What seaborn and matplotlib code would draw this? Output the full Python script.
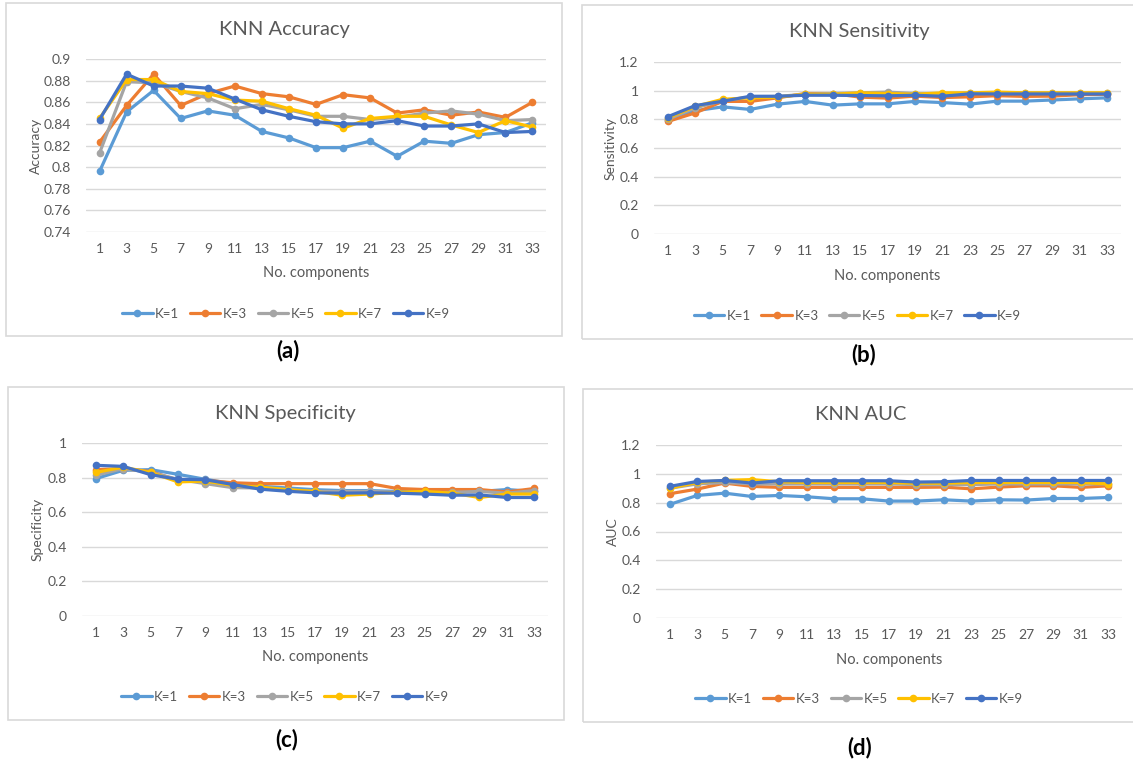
import numpy as np
import pandas as pd
import matplotlib
matplotlib.use("Agg")
import matplotlib.pyplot as plt
import seaborn as sns
from matplotlib.patches import Rectangle

# ---------------- data ----------------
components = [1, 3, 5, 7, 9, 11, 13, 15, 17, 19, 21, 23, 25, 27, 29, 31, 33]
k_labels = ["K=1", "K=3", "K=5", "K=7", "K=9"]

acc_k1 = [0.796, 0.851, 0.871, 0.845, 0.852, 0.848, 0.833, 0.827, 0.818, 0.818, 0.824, 0.810, 0.824, 0.822, 0.830, 0.832, 0.841]
acc_k3 = [0.823, 0.857, 0.886, 0.857, 0.868, 0.875, 0.868, 0.865, 0.858, 0.867, 0.864, 0.850, 0.853, 0.848, 0.851, 0.846, 0.860]
acc_k5 = [0.813, 0.879, 0.878, 0.870, 0.864, 0.854, 0.858, 0.853, 0.847, 0.847, 0.844, 0.846, 0.850, 0.852, 0.849, 0.843, 0.844]
acc_k7 = [0.845, 0.881, 0.881, 0.870, 0.868, 0.862, 0.861, 0.854, 0.848, 0.836, 0.845, 0.847, 0.847, 0.839, 0.832, 0.843, 0.837]
acc_k9 = [0.844, 0.886, 0.875, 0.875, 0.873, 0.863, 0.853, 0.847, 0.842, 0.840, 0.840, 0.843, 0.838, 0.838, 0.840, 0.832, 0.833]

sen_k1 = [0.795, 0.860, 0.887, 0.869, 0.906, 0.925, 0.899, 0.908, 0.908, 0.925, 0.917, 0.906, 0.927, 0.927, 0.935, 0.943, 0.950]
sen_k3 = [0.785, 0.845, 0.925, 0.925, 0.950, 0.980, 0.980, 0.955, 0.948, 0.962, 0.952, 0.957, 0.965, 0.960, 0.962, 0.972, 0.975]
sen_k5 = [0.800, 0.880, 0.930, 0.955, 0.960, 0.975, 0.980, 0.985, 0.990, 0.980, 0.975, 0.985, 0.985, 0.985, 0.985, 0.985, 0.985]
sen_k7 = [0.810, 0.890, 0.940, 0.950, 0.955, 0.975, 0.975, 0.985, 0.980, 0.975, 0.985, 0.985, 0.990, 0.985, 0.985, 0.985, 0.985]
sen_k9 = [0.818, 0.896, 0.926, 0.961, 0.961, 0.968, 0.968, 0.966, 0.964, 0.968, 0.961, 0.978, 0.977, 0.977, 0.977, 0.977, 0.977]

spe_k1 = [0.794, 0.842, 0.846, 0.819, 0.790, 0.765, 0.750, 0.740, 0.730, 0.725, 0.725, 0.720, 0.720, 0.720, 0.720, 0.731, 0.720]
spe_k3 = [0.846, 0.852, 0.835, 0.785, 0.785, 0.770, 0.765, 0.765, 0.765, 0.765, 0.765, 0.737, 0.731, 0.731, 0.731, 0.717, 0.737]
spe_k5 = [0.813, 0.852, 0.830, 0.790, 0.765, 0.742, 0.740, 0.730, 0.720, 0.720, 0.720, 0.715, 0.710, 0.715, 0.720, 0.710, 0.725]
spe_k7 = [0.830, 0.860, 0.830, 0.775, 0.780, 0.755, 0.745, 0.730, 0.720, 0.698, 0.705, 0.715, 0.720, 0.710, 0.685, 0.705, 0.705]
spe_k9 = [0.871, 0.865, 0.817, 0.790, 0.788, 0.760, 0.733, 0.721, 0.712, 0.710, 0.712, 0.710, 0.705, 0.698, 0.700, 0.685, 0.685]

auc_k1 = [0.788, 0.850, 0.866, 0.843, 0.850, 0.841, 0.827, 0.827, 0.811, 0.811, 0.820, 0.811, 0.820, 0.818, 0.829, 0.829, 0.836]
auc_k3 = [0.862, 0.894, 0.936, 0.913, 0.906, 0.906, 0.906, 0.906, 0.906, 0.906, 0.908, 0.896, 0.908, 0.917, 0.917, 0.906, 0.917]
auc_k5 = [0.900, 0.930, 0.940, 0.930, 0.930, 0.930, 0.930, 0.930, 0.930, 0.925, 0.925, 0.925, 0.930, 0.930, 0.930, 0.930, 0.930]
auc_k7 = [0.900, 0.940, 0.955, 0.960, 0.945, 0.940, 0.940, 0.940, 0.940, 0.935, 0.935, 0.940, 0.940, 0.940, 0.940, 0.940, 0.930]
auc_k9 = [0.913, 0.947, 0.954, 0.936, 0.952, 0.952, 0.952, 0.952, 0.952, 0.943, 0.945, 0.954, 0.954, 0.954, 0.954, 0.954, 0.954]

colors = ["#5B9BD5", "#ED7D31", "#A5A5A5", "#FFC000", "#4472C4"]

# ---------------- figure ----------------
sns.set_theme(style="white")
plt.rcParams["font.family"] = ["Lato", "DejaVu Sans"]

W, H = 1133, 763
fig = plt.figure(figsize=(W / 100, H / 100), dpi=100)
fig.patch.set_facecolor("white")

TXT = "#595959"
GRID = "#D9D9D9"


def fx(x):
    return x / W


def fy(y):
    return 1 - y / H


panels = [
    dict(series=[acc_k1, acc_k3, acc_k5, acc_k7, acc_k9], title="KNN Accuracy", ylabel="Accuracy",
         ylim=(0.74, 0.9), yticks=[0.74, 0.76, 0.78, 0.8, 0.82, 0.84, 0.86, 0.88, 0.9],
         ax=(86, 546, 59, 232), box=(6, 562, 3, 336), title_xy=(284, 29), ylab_x=36,
         xlab_y=273, leg_y=314, tag="(a)", tag_xy=(288, 351)),
    dict(series=[sen_k1, sen_k3, sen_k5, sen_k7, sen_k9], title="KNN Sensitivity", ylabel="Sensitivity",
         ylim=(0, 1.2), yticks=[0, 0.2, 0.4, 0.6, 0.8, 1, 1.2],
         ax=(654, 1121, 62, 234), box=(582, 1140, 5, 339), title_xy=(859, 32), ylab_x=611,
         xlab_y=276, leg_y=316, tag="(b)", tag_xy=(864, 355)),
    dict(series=[spe_k1, spe_k3, spe_k5, spe_k7, spe_k9], title="KNN Specificity", ylabel="Specificity",
         ylim=(0, 1), yticks=[0, 0.2, 0.4, 0.6, 0.8, 1],
         ax=(82, 548, 443, 616), box=(8, 564, 387, 720), title_xy=(285, 413), ylab_x=38,
         xlab_y=657, leg_y=697, tag="(c)", tag_xy=(287, 740)),
    dict(series=[auc_k1, auc_k3, auc_k5, auc_k7, auc_k9], title="KNN AUC", ylabel="AUC",
         ylim=(0, 1.2), yticks=[0, 0.2, 0.4, 0.6, 0.8, 1, 1.2],
         ax=(656, 1122, 445, 618), box=(583, 1140, 389, 722), title_xy=(861, 415), ylab_x=613,
         xlab_y=660, leg_y=699, tag="(d)", tag_xy=(860, 748)),
]


def fmt(v):
    s = f"{v:.2f}".rstrip("0").rstrip(".")
    return s


for p in panels:
    # panel frame
    bx0, bx1, by0, by1 = p["box"]
    fig.patches.append(Rectangle((fx(bx0), fy(by1)), fx(bx1 - bx0), (by1 - by0) / H,
                                 transform=fig.transFigure, fill=False,
                                 edgecolor=GRID, linewidth=1.2, zorder=0))

    x0, x1, y0, y1 = p["ax"]
    ax = fig.add_axes([fx(x0), fy(y1), fx(x1 - x0), (y1 - y0) / H])
    ax.set_facecolor("none")

    frames = []
    for lab, vals in zip(k_labels, p["series"]):
        frames.append(pd.DataFrame({"comp": components, "value": vals, "K": lab}))
    df = pd.concat(frames, ignore_index=True)

    sns.lineplot(data=df, x="comp", y="value", hue="K", hue_order=k_labels,
                 palette=colors, marker="o", markersize=5.5, markeredgewidth=0,
                 linewidth=2.3, ax=ax, legend=True, zorder=3)

    handles, labels = ax.get_legend_handles_labels()
    ax.get_legend().remove()

    ax.set_xlim(0, 34)
    ax.set_ylim(*p["ylim"])
    ax.set_xticks(components)
    ax.set_xticklabels([str(c) for c in components], color=TXT, fontsize=10)
    ax.set_yticks(p["yticks"])
    ax.set_yticklabels([fmt(v) for v in p["yticks"]], color=TXT, fontsize=10)
    ax.tick_params(axis="both", length=0)
    ax.tick_params(axis="x", pad=8)
    ax.tick_params(axis="y", pad=11)
    ax.grid(axis="y", color=GRID, linewidth=1.0)
    ax.set_axisbelow(True)
    for s in ax.spines.values():
        s.set_visible(False)
    ax.set_xlabel("")
    ax.set_ylabel("")

    fig.text(fx(p["title_xy"][0]), fy(p["title_xy"][1]), p["title"], ha="center", va="center",
             fontsize=14.5, color=TXT)
    fig.text(fx(p["ylab_x"]), fy((y0 + y1) / 2), p["ylabel"], ha="center", va="center",
             rotation=90, fontsize=10, color=TXT)
    fig.text(fx((x0 + x1) / 2), fy(p["xlab_y"]), "No. components", ha="center", va="center",
             fontsize=10.5, color=TXT)
    fig.text(fx(p["tag_xy"][0]), fy(p["tag_xy"][1]), p["tag"], ha="center", va="center",
             fontsize=16, fontweight="bold", color="black")

    leg = fig.legend(handles, labels, loc="center", ncol=5,
                     bbox_to_anchor=(fx((x0 + x1) / 2 - 30), fy(p["leg_y"])),
                     frameon=False, fontsize=9.5, handlelength=2.3, handletextpad=0.2,
                     columnspacing=0.8, labelcolor=TXT)

fig.savefig("out.png", dpi=100, facecolor="white")
